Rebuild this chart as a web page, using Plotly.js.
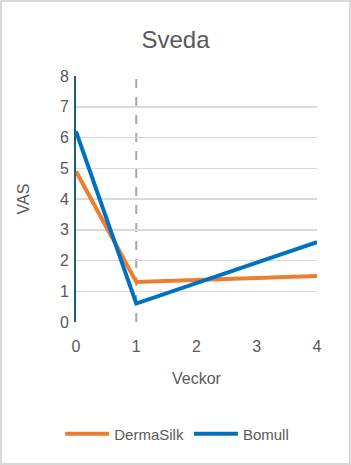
<!DOCTYPE html>
<html><head><meta charset="utf-8">
<script src="https://cdn.plot.ly/plotly-3.0.1.min.js"></script>
<style>html,body{margin:0;padding:0;background:#fff;}#chart{width:351px;height:465px;}</style>
</head><body><div id="chart"></div>
<script>
const weeks = [0, 1, 4];
const dermaSilk = [4.9, 1.3, 1.5];
const bomull = [6.2, 0.6, 2.6];
const markerWeek = 1;
const yTicks = [0,1,2,3,4,5,6,7,8];
const xTicks = [0,1,2,3,4];

const font = "Liberation Sans, Arial, sans-serif";
const textColor = "#595959";

const traces = [
  {x: weeks, y: dermaSilk, name: "DermaSilk", mode: "lines", line: {color: "#ED7D31", width: 4}},
  {x: weeks, y: bomull, name: "Bomull", mode: "lines", line: {color: "#0070C0", width: 4}}
];

const layout = {
  width: 351, height: 465,
  paper_bgcolor: "#fff", plot_bgcolor: "#fff",
  margin: {l: 76, r: 34, t: 76, b: 143, autoexpand: false},
  font: {family: font, color: textColor, size: 15},
  title: {text: "Sveda", font: {size: 24, color: textColor}, x: 0.5, xref: "container", xanchor: "center", y: 0.915, yanchor: "middle"},
  showlegend: true,
  legend: {orientation: "h", x: 0.42, xanchor: "center", y: -0.455, yanchor: "middle", font: {size: 15, color: textColor}, itemwidth: 44, tracegroupgap: 0},
  xaxis: {
    range: [0, 4], tickvals: xTicks, showgrid: false, zeroline: false, showline: false,
    ticks: "", ticklen: 0, tickfont: {size: 16, color: textColor}, ticklabelstandoff: 13,
    title: {text: "Veckor", font: {size: 16, color: textColor}, standoff: 18}
  },
  yaxis: {
    range: [0, 8], tickvals: yTicks, showgrid: true, gridcolor: "#d9d9d9", gridwidth: 1.5,
    zeroline: false, showline: true, linecolor: "#1F5F7A", linewidth: 2,
    ticks: "", tickfont: {size: 16, color: textColor}, ticklabelstandoff: 2,
    title: {text: "VAS", font: {size: 16, color: textColor}, standoff: 26}
  },
  shapes: [
    {type: "line", xref: "x", yref: "y", x0: markerWeek, x1: markerWeek, y0: 0, y1: 8,
     line: {color: "#A6A6A6", width: 2, dash: "dash"}, layer: "below"},
    {type: "rect", xref: "paper", yref: "paper", x0: -75/241, x1: 1 + 33/241, y0: -142/246, y1: 1 + 75/246,
     line: {color: "#d9d9d9", width: 2}}
  ]
};

Plotly.newPlot("chart", traces, layout, {displayModeBar: false, staticPlot: true});
</script></body></html>
